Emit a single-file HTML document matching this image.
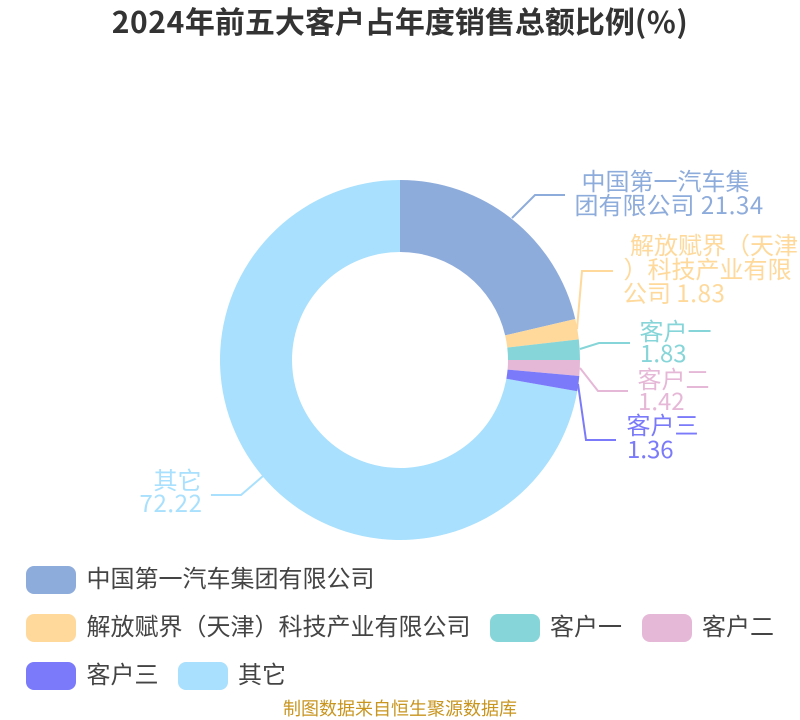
<!DOCTYPE html>
<html>
<head>
<meta charset="utf-8">
<style>
html,body{margin:0;padding:0;background:#fff;width:800px;height:720px;overflow:hidden}
svg{display:block}
text{font-family:"Noto Sans CJK SC","WenQuanYi Zen Hei",sans-serif;font-size:24px}
.t{font-size:30px;font-weight:700;fill:#333}
.l{fill:#444}
.d{letter-spacing:.6px}
</style>
</head>
<body>
<svg width="800" height="720" viewBox="0 0 800 720" xmlns="http://www.w3.org/2000/svg">
<text class="t" x="400" y="33" text-anchor="middle"><tspan class="d">2024</tspan>年前五大客户占年度销售总额比例<tspan class="d">(%)</tspan></text>

<path fill="#a8e0fd" d="M577.26 391.28A180 180 0 1 1 400 180L400 252A108 108 0 1 0 506.36 378.77Z"/>
<path fill="#8eacdb" d="M400 180A180 180 0 0 1 575.26 318.97L505.16 335.38A108 108 0 0 0 400 252Z"/>
<path fill="#fed99b" d="M575.26 318.97A180 180 0 0 1 578.81 339.35L507.29 347.61A108 108 0 0 0 505.16 335.38Z"/>
<path fill="#86d5d8" d="M578.81 339.35A180 180 0 0 1 580 360L508 360A108 108 0 0 0 507.29 347.61Z"/>
<path fill="#e6b8d7" d="M580 360A180 180 0 0 1 579.28 376.04L507.57 369.62A108 108 0 0 0 508 360Z"/>
<path fill="#7a7afa" d="M579.28 376.04A180 180 0 0 1 577.26 391.28L506.36 378.77A108 108 0 0 0 507.57 369.62Z"/>

<g fill="none" stroke-width="2">
<polyline stroke="#8eacdb" points="512,218 535,195 565,195"/>
<polyline stroke="#fed99b" points="577,329 582,271 613,271"/>
<polyline stroke="#86d5d8" points="580,349 599,343 630,343"/>
<polyline stroke="#e6b8d7" points="580,368 598,391 628,391"/>
<polyline stroke="#7a7afa" points="578,384 586,440 616,440"/>
<polyline stroke="#a8e0fd" points="263,476 241,495 211,495"/>
</g>

<g fill="#8eacdb">
<text x="581.5" y="190">中国第一汽车集</text>
<text x="574.5" y="214">团有限公司 <tspan class="d" dx="1">21.34</tspan></text>
</g>
<g fill="#fed99b">
<text x="630" y="254">解放赋界（天津</text>
<text x="623.5" y="278">）科技产业有限</text>
<text x="623" y="302">公司 <tspan class="d">1.83</tspan></text>
</g>
<g fill="#86d5d8">
<text x="639.5" y="340">客户一</text>
<text x="640" y="362">1.83</text>
</g>
<g fill="#e6b8d7">
<text x="637.5" y="388">客户二</text>
<text x="638" y="410">1.42</text>
</g>
<g fill="#7a7afa">
<text x="626.5" y="434">客户三</text>
<text x="627" y="458">1.36</text>
</g>
<g fill="#a8e0fd">
<text x="201.5" y="489" text-anchor="end">其它</text>
<text class="d" x="202.5" y="512" text-anchor="end">72.22</text>
</g>

<rect x="26" y="566" width="50" height="28" rx="8" fill="#8eacdb"/>
<text class="l" x="86.5" y="587">中国第一汽车集团有限公司</text>
<rect x="26" y="614" width="50" height="28" rx="8" fill="#fed99b"/>
<text class="l" x="86.5" y="635">解放赋界（天津）科技产业有限公司</text>
<rect x="490" y="614" width="50" height="28" rx="8" fill="#86d5d8"/>
<text class="l" x="550" y="635">客户一</text>
<rect x="642" y="614" width="50" height="28" rx="8" fill="#e6b8d7"/>
<text class="l" x="702" y="635">客户二</text>
<rect x="26" y="662" width="50" height="28" rx="8" fill="#7a7afa"/>
<text class="l" x="86.5" y="683">客户三</text>
<rect x="178" y="662" width="50" height="28" rx="8" fill="#a8e0fd"/>
<text class="l" x="238" y="683">其它</text>

<text x="400" y="715" text-anchor="middle" style="font-size:18px" fill="#c8951f">制图数据来自恒生聚源数据库</text>
</svg>
</body>
</html>
